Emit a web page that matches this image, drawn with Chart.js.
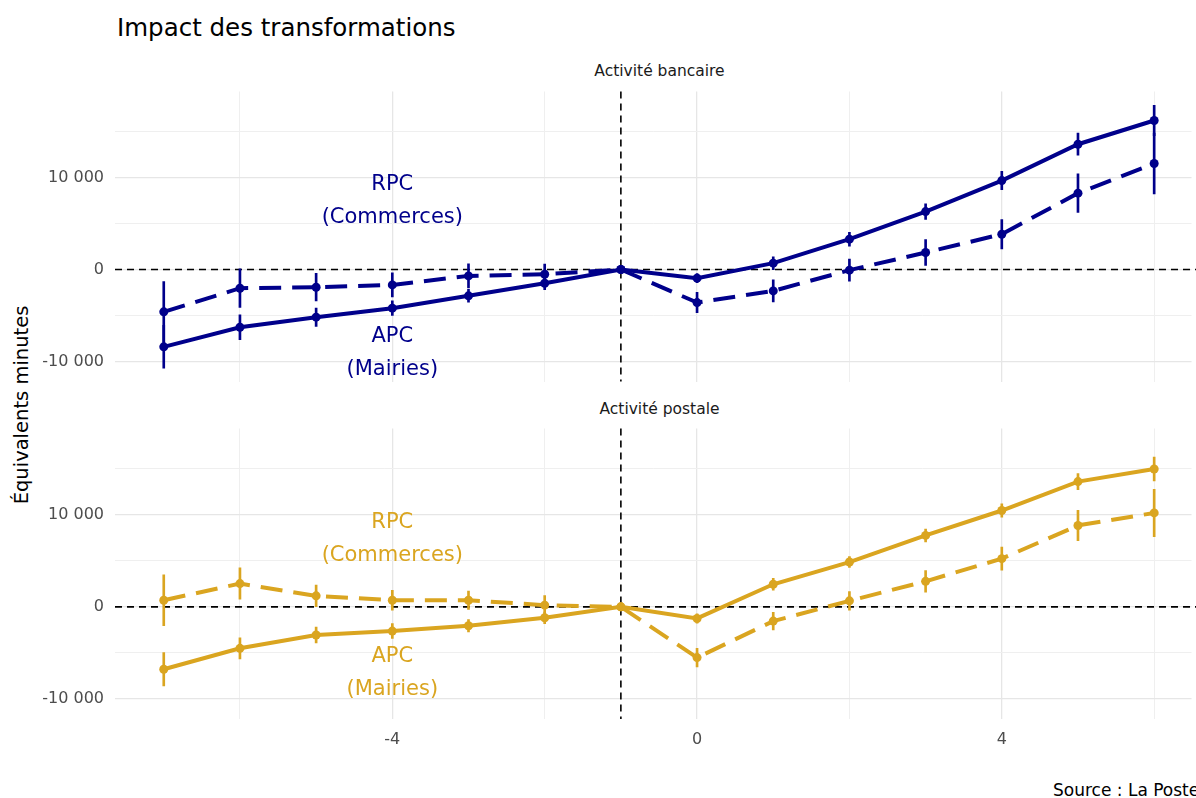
<!DOCTYPE html>
<html lang="fr">
<head>
<meta charset="utf-8">
<title>Impact des transformations</title>
<script src="https://cdn.jsdelivr.net/npm/chart.js@4.4.1/dist/chart.umd.min.js"></script>
<style>
  html, body { margin: 0; padding: 0; background: #fff; overflow: hidden; }
  body { width: 1196px; height: 798px; position: relative; font-family: "DejaVu Sans", "Liberation Sans", sans-serif; }
  .txt { position: absolute; white-space: nowrap; line-height: 1; }
  #title { left: 117px; top: 16px; font-size: 24.5px; color: #000; }
  .strip { left: 115px; width: 1089px; text-align: center; font-size: 15.5px; color: #1a1a1a; }
  #ylab { left: 22px; top: 405px; font-size: 19.5px; color: #000; transform: translate(-50%, -50%) rotate(-90deg); }
  #source { left: 1053px; top: 782px; font-size: 17px; color: #000; }
  .panel { position: absolute; left: 0; width: 1196px; }
</style>
</head>
<body>
<div id="title" class="txt">Impact des transformations</div>
<div class="txt strip" style="top:64px">Activité bancaire</div>
<div class="txt strip" style="top:402px">Activité postale</div>
<div id="ylab" class="txt">Équivalents minutes</div>
<div id="source" class="txt">Source : La Poste</div>
<div class="panel" style="top:87px;height:299px"><canvas id="bank"></canvas></div>
<div class="panel" style="top:424px;height:331px"><canvas id="post"></canvas></div>
<script>
// relative period (0 = transformation, -1 = reference)
const periods = [-7, -6, -5, -4, -3, -2, -1, 0, 1, 2, 3, 4, 5, 6];

// Activité bancaire
const bankApc = [-8400, -6270, -5180, -4200, -2860, -1490, 0, -940, 690, 3300, 6300, 9670, 13620, 16200];
const bankApcErr = [2330, 1350, 1000, 800, 700, 700, 0, 500, 700, 750, 850, 1000, 1200, 1650];
const bankRpc = [-4600, -2030, -1920, -1670, -690, -510, 0, -3590, -2320, -70, 1850, 3840, 8300, 11520];
const bankRpcErr = [3300, 2100, 1500, 1300, 1300, 1100, 0, 1100, 1200, 1200, 1400, 1600, 2100, 3300];

// Activité postale
const postApc = [-6770, -4500, -3060, -2630, -2050, -1190, 0, -1260, 2450, 4860, 7750, 10450, 13590, 14950];
const postApcErr = [1800, 1150, 850, 800, 670, 630, 0, 500, 630, 580, 700, 720, 870, 1300];
const postRpc = [720, 2520, 1190, 720, 720, 180, 0, -5510, -1550, 650, 2770, 5230, 8830, 10190];
const postRpcErr = [2750, 1700, 1170, 1080, 1000, 1050, 0, 1000, 950, 1000, 1170, 1260, 1650, 2570];

// axis breaks
const xGrid = [-6, -4, -2, 0, 2, 4, 6];
const xLabels = [-4, 0, 4];
const yGrid = [-10000, -5000, 0, 5000, 10000, 15000];
const yLabels = [-10000, 0, 10000];

const refX = -1, refY = 0;
const BLUE = '#00008B', GOLD = '#DAA520';
const FONT = '"DejaVu Sans", "Liberation Sans", sans-serif';

function fmt(v) {
  const s = Math.abs(v).toString().replace(/\B(?=(\d{3})+(?!\d))/g, ' ');
  return (v < 0 ? '-' : '') + s;
}

function isMajor(c, list) { return c.tick && list.includes(c.tick.value); }

const refLines = {
  id: 'refLines',
  beforeDatasetsDraw(chart) {
    const { ctx, chartArea: a, scales: { x, y } } = chart;
    ctx.save();
    ctx.strokeStyle = '#000';
    ctx.lineWidth = 1.6;
    ctx.setLineDash([7, 5]);
    const py = y.getPixelForValue(refY), px = x.getPixelForValue(refX);
    ctx.beginPath(); ctx.moveTo(a.left, py); ctx.lineTo(chart.width, py); ctx.stroke();
    ctx.beginPath(); ctx.moveTo(px, a.top); ctx.lineTo(px, a.bottom); ctx.stroke();
    ctx.restore();
  }
};

const textLabels = {
  id: 'textLabels',
  afterDatasetsDraw(chart, args, opts) {
    const { ctx, scales: { x, y } } = chart;
    ctx.save();
    ctx.fillStyle = opts.color;
    ctx.font = '21px ' + FONT;
    ctx.textAlign = 'center';
    ctx.textBaseline = 'middle';
    opts.items.forEach(it => {
      const px = x.getPixelForValue(it.x), py = y.getPixelForValue(it.y);
      it.lines.forEach((ln, k) => ctx.fillText(ln, px, py + (k - (it.lines.length - 1) / 2) * 33));
    });
    ctx.restore();
  }
};

function pts(vals) { return periods.map((p, i) => ({ x: p, y: vals[i] })); }
function bars(vals, err) { return periods.map((p, i) => ({ x: p, y: [vals[i] - err[i], vals[i] + err[i]] })); }

function makePanel(id, apc, apcErr, rpc, rpcErr, color, showX, labels) {
  const lineBase = { type: 'line', borderColor: color, backgroundColor: color, borderWidth: 4,
    pointRadius: 4.5, pointBorderWidth: 0, pointBackgroundColor: color, tension: 0 };
  const barBase = { type: 'bar', backgroundColor: color, barThickness: 2, grouped: false, borderWidth: 0 };
  new Chart(document.getElementById(id), {
    data: {
      datasets: [
        Object.assign({ label: 'APC err', data: bars(apc, apcErr) }, barBase),
        Object.assign({ label: 'RPC err', data: bars(rpc, rpcErr) }, barBase),
        Object.assign({ label: 'RPC (Commerces)', data: pts(rpc), borderDash: [22, 11] }, lineBase),
        Object.assign({ label: 'APC (Mairies)', data: pts(apc) }, lineBase)
      ]
    },
    options: {
      responsive: true,
      maintainAspectRatio: false,
      animation: false,
      layout: { padding: { top: 2, bottom: showX ? 0 : 2, left: 0, right: 0 } },
      plugins: {
        legend: { display: false },
        tooltip: { enabled: false },
        textLabels: { color: color, items: labels }
      },
      scales: {
        x: {
          type: 'linear', min: -7.64, max: 6.49, offset: false,
          afterBuildTicks: s => { s.ticks = xGrid.map(v => ({ value: v })); },
          afterFit: s => { s.height = showX ? 36 : 0; s.paddingLeft = 0; s.paddingRight = 0; },
          border: { display: false },
          grid: { offset: false, drawTicks: false, color: c => isMajor(c, xLabels) ? '#e6e6e6' : '#efefef', lineWidth: c => isMajor(c, xLabels) ? 1.3 : 1 },
          ticks: {
            display: showX, padding: 11, maxRotation: 0, autoSkip: false, color: '#4d4d4d',
            font: { family: FONT, size: 16 },
            callback: v => xLabels.includes(v) ? String(v) : ''
          }
        },
        y: {
          type: 'linear', min: -12170, max: 19350,
          afterBuildTicks: s => { s.ticks = yGrid.map(v => ({ value: v })); },
          afterFit: s => { s.width = 115; s.paddingTop = 0; s.paddingBottom = 0; },
          border: { display: false },
          grid: { drawTicks: false, color: c => isMajor(c, yLabels) ? '#e6e6e6' : '#efefef', lineWidth: c => isMajor(c, yLabels) ? 1.3 : 1 },
          ticks: {
            padding: 11, color: '#4d4d4d', font: { family: FONT, size: 16 },
            callback: v => yLabels.includes(v) ? fmt(v) : ''
          }
        }
      }
    },
    plugins: [refLines, textLabels]
  });
}

makePanel('bank', bankApc, bankApcErr, bankRpc, bankRpcErr, BLUE, false, [
  { x: -4, y: 7450, lines: ['RPC', '(Commerces)'] },
  { x: -4, y: -9130, lines: ['APC', '(Mairies)'] }
]);
makePanel('post', postApc, postApcErr, postRpc, postRpcErr, GOLD, true, [
  { x: -4, y: 7400, lines: ['RPC', '(Commerces)'] },
  { x: -4, y: -7140, lines: ['APC', '(Mairies)'] }
]);
</script>
</body>
</html>
